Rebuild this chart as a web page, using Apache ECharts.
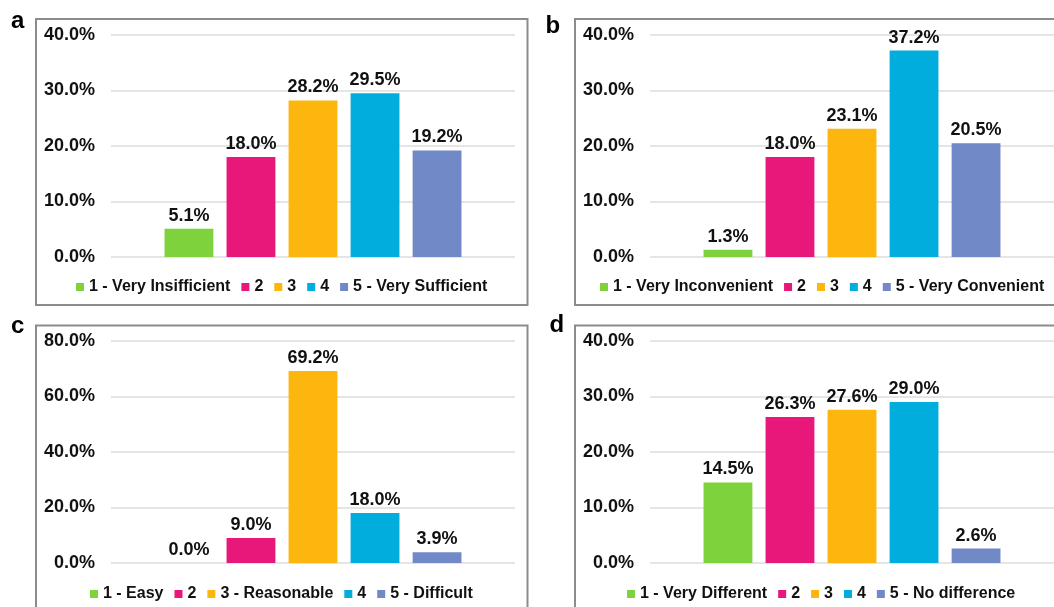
<!DOCTYPE html>
<html>
<head>
<meta charset="utf-8">
<title>Survey response distribution</title>
<script src="https://cdn.jsdelivr.net/npm/echarts@6/dist/echarts.min.js"></script>
<style>
  html, body { margin: 0; padding: 0; background: #fff; overflow: hidden; }
  #chart { width: 1054px; height: 607px; }
</style>
</head>
<body>
<div id="chart"></div>
<script>
// data
const labelsA = ['1 - Very Insifficient', '2', '3', '4', '5 - Very Sufficient']
const valuesA = [5.1, 18.0, 28.2, 29.5, 19.2]
const labelsB = ['1 - Very Inconvenient', '2', '3', '4', '5 - Very Convenient']
const valuesB = [1.3, 18.0, 23.1, 37.2, 20.5]
const labelsC = ['1 - Easy', '2', '3 - Reasonable', '4', '5 - Difficult']
const valuesC = [0.0, 9.0, 69.2, 18.0, 3.9]
const labelsD = ['1 - Very Different', '2', '3', '4', '5 - No difference']
const valuesD = [14.5, 26.3, 27.6, 29.0, 2.6]
const yTicksA = [0, 10, 20, 30, 40]
const yTicksB = [0, 10, 20, 30, 40]
const yTicksC = [0, 20, 40, 60, 80]
const yTicksD = [0, 10, 20, 30, 40]
const panelLetters = ['a', 'b', 'c', 'd']

const colors = ['#7ed23b', '#e8177a', '#fdb60e', '#00addc', '#7289c7']
const font = "'Liberation Sans', Arial, Helvetica, sans-serif"

// layout per panel
const grids = [
  { left: 111, top: 35, width: 404, height: 222 },
  { left: 650, top: 35, width: 404, height: 222 },
  { left: 111, top: 341, width: 404, height: 222 },
  { left: 650, top: 341, width: 404, height: 222 }
]
const boxes = [
  { x: 36, y: 19, width: 491.5, height: 286 },
  { x: 575, y: 19, width: 492, height: 286 },
  { x: 36, y: 325.5, width: 491.5, height: 300 },
  { x: 575, y: 325.5, width: 492, height: 300 }
]
const legendPos = [
  { left: 76, top: 279 },
  { left: 600, top: 279 },
  { left: 90, top: 586 },
  { left: 627, top: 586 }
]
const letterPos = [
  { x: 11, y: 21.5 },
  { x: 545.5, y: 26 },
  { x: 11, y: 326 },
  { x: 549.5, y: 325.5 }
]

const panels = [
  { labels: labelsA, values: valuesA, ticks: yTicksA },
  { labels: labelsB, values: valuesB, ticks: yTicksB },
  { labels: labelsC, values: valuesC, ticks: yTicksC },
  { labels: labelsD, values: valuesD, ticks: yTicksD }
]

const chart = echarts.init(document.getElementById('chart'))

const series = []
panels.forEach((p, i) => {
  p.labels.forEach((name, j) => {
    series.push({
      type: 'bar',
      name: name,
      xAxisIndex: i,
      yAxisIndex: i,
      data: [p.values[j]],
      barGap: '27%',
      barCategoryGap: '26.5%',
      itemStyle: { color: colors[j] },
      label: {
        show: true,
        position: 'top',
        distance: 4,
        formatter: (d) => d.value.toFixed(1) + '%',
        color: '#111',
        fontFamily: font,
        fontWeight: 'bold',
        fontSize: 18
      },
      emphasis: { disabled: true },
      animation: false
    })
  })
})

const graphic = []
boxes.forEach((b) => {
  graphic.push({
    type: 'rect',
    shape: b,
    style: { fill: null, stroke: '#8c8c8c', lineWidth: 2 },
    silent: true
  })
})
panelLetters.forEach((t, i) => {
  graphic.push({
    type: 'text',
    x: letterPos[i].x,
    y: letterPos[i].y,
    style: {
      text: t,
      font: 'bold 24px ' + font,
      fill: '#000',
      verticalAlign: 'middle'
    },
    silent: true
  })
})

chart.setOption({
  animation: false,
  grid: grids,
  xAxis: grids.map((g, i) => ({
    type: 'category',
    gridIndex: i,
    data: [''],
    axisLine: { show: false },
    axisTick: { show: false },
    axisLabel: { show: false }
  })),
  yAxis: panels.map((p, i) => ({
    type: 'value',
    gridIndex: i,
    min: p.ticks[0],
    max: p.ticks[p.ticks.length - 1],
    interval: p.ticks[1] - p.ticks[0],
    axisLine: { show: false },
    axisTick: { show: false },
    splitLine: { lineStyle: { color: '#dcdcdc', width: 1.5 } },
    axisLabel: {
      margin: 16,
      formatter: (v) => v.toFixed(1) + '%',
      color: '#111',
      fontFamily: font,
      fontWeight: 'bold',
      fontSize: 18
    }
  })),
  legend: panels.map((p, i) => ({
    data: p.labels.map((n) => ({ name: n, itemStyle: { color: colors[p.labels.indexOf(n)] } })),
    left: legendPos[i].left,
    top: legendPos[i].top,
    width: 460,
    padding: 0,
    icon: 'rect',
    itemWidth: 8,
    itemHeight: 8,
    itemGap: 11,
    selectedMode: false,
    textStyle: {
      color: '#111',
      fontFamily: font,
      fontWeight: 'bold',
      fontSize: 16,
      lineHeight: 16
    }
  })),
  graphic: graphic,
  series: series
})

window.addEventListener('resize', () => chart.resize())
</script>
</body>
</html>
